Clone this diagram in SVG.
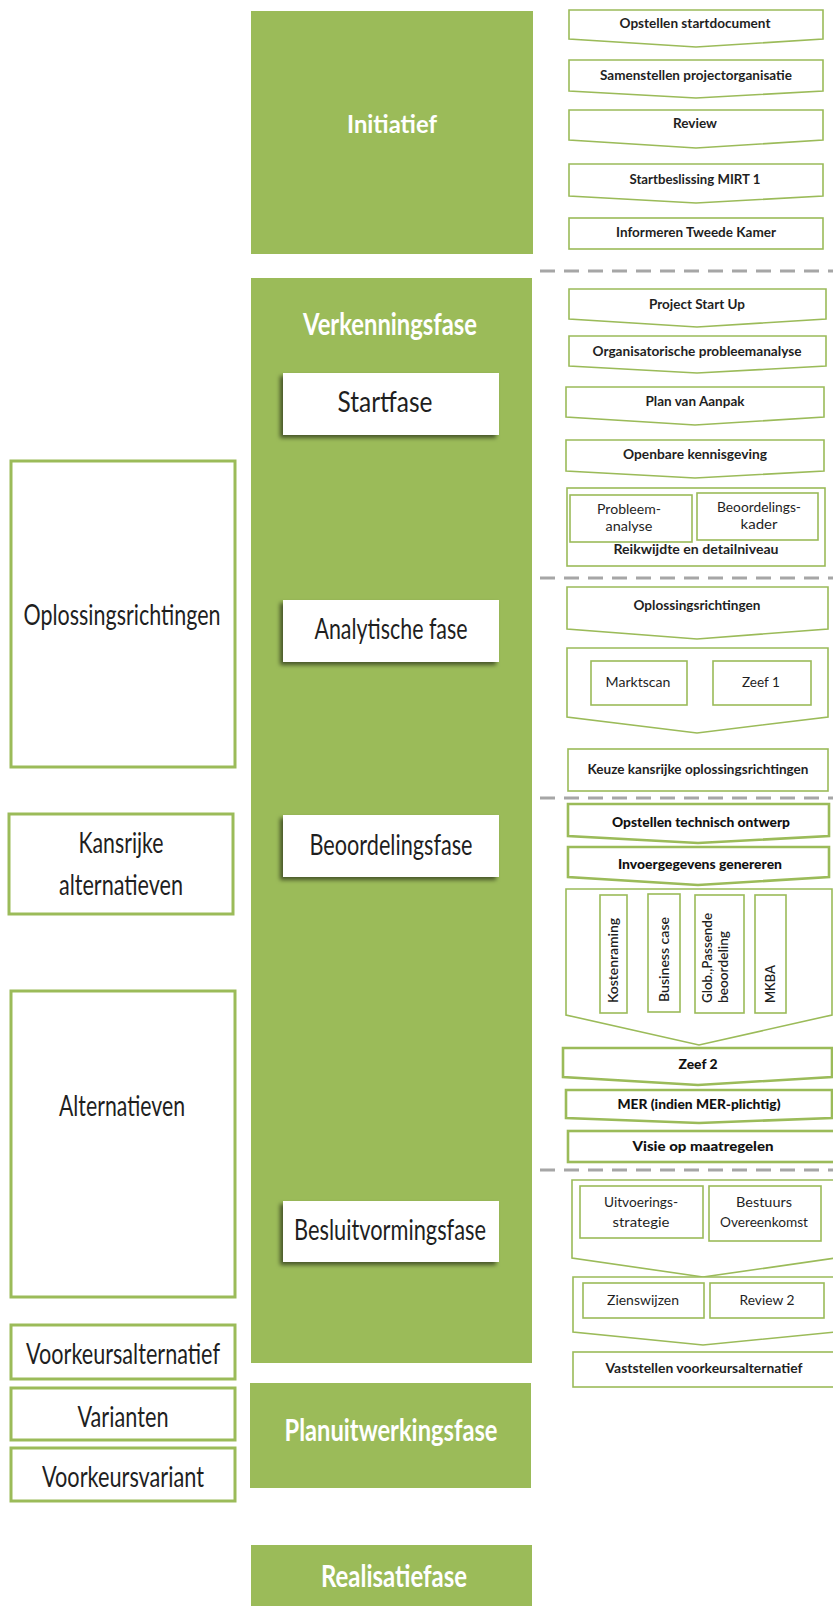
<svg xmlns="http://www.w3.org/2000/svg" width="833" height="1606" viewBox="0 0 833 1606">
<defs>
<filter id="sh" x="-20%" y="-30%" width="140%" height="170%">
<feDropShadow dx="-3" dy="3" stdDeviation="2" flood-color="#000" flood-opacity="0.55"/>
</filter>
<style>
.phase{fill:#9BBB59}
.wbox{fill:#fff;filter:url(#sh)}
.lbox{fill:#fff;stroke:#9BBB59;stroke-width:3}
.ch{fill:#fff;stroke:#9BBB59;stroke-width:1.6}
.chh{fill:#fff;stroke:#9BBB59;stroke-width:2.6}
.sep{stroke:#A6A6A6;stroke-width:3;stroke-dasharray:15 9;fill:none}
text{font-family:Lato,"Open Sans","Liberation Sans",sans-serif;text-anchor:middle}
.pt{fill:#fff;font-weight:700}
.big{fill:#1f1f1f;font-size:28px}
.sm{fill:#1f1f1f;font-size:12.5px;font-weight:700}
.smr{fill:#1f1f1f;font-size:13px}
.smv{fill:#1f1f1f;font-size:13px;font-weight:600;text-anchor:start}
.smh{fill:#111;font-size:12.5px;font-weight:900}
</style>
</defs>
<rect width="833" height="1606" fill="#fff"/>

<g id="separators">
<line class="sep" x1="540" y1="271" x2="833" y2="271"/>
<line class="sep" x1="540" y1="578" x2="833" y2="578"/>
<line class="sep" x1="540" y1="798" x2="833" y2="798"/>
<line class="sep" x1="540" y1="1170" x2="833" y2="1170"/>
</g>

<g id="initiatief">
<rect class="phase" x="251" y="11" width="282" height="243"/>
<text class="pt" x="392" y="133" font-size="25" textLength="90" lengthAdjust="spacingAndGlyphs">Initiatief</text>
</g>
<g id="verkenningsfase">
<rect class="phase" x="251" y="278" width="281" height="1085"/>
<text class="pt" x="390" y="335" font-size="30" textLength="174" lengthAdjust="spacingAndGlyphs">Verkenningsfase</text>
</g>
<g id="startfase">
<rect class="wbox" x="283" y="373" width="216" height="62"/>
<text class="big" x="385" y="412" textLength="95" lengthAdjust="spacingAndGlyphs">Startfase</text>
</g>
<g id="analytische-fase">
<rect class="wbox" x="283" y="600" width="216" height="62"/>
<text class="big" x="391" y="639" textLength="153" lengthAdjust="spacingAndGlyphs">Analytische fase</text>
</g>
<g id="beoordelingsfase">
<rect class="wbox" x="283" y="815" width="216" height="62"/>
<text class="big" x="391" y="855" textLength="163" lengthAdjust="spacingAndGlyphs">Beoordelingsfase</text>
</g>
<g id="besluitvormingsfase">
<rect class="wbox" x="283" y="1201" width="216" height="61"/>
<text class="big" x="390" y="1240" textLength="192" lengthAdjust="spacingAndGlyphs">Besluitvormingsfase</text>
</g>
<g id="planuitwerkingsfase">
<rect class="phase" x="250" y="1383" width="281" height="105"/>
<text class="pt" x="391" y="1441" font-size="30" textLength="213" lengthAdjust="spacingAndGlyphs">Planuitwerkingsfase</text>
</g>
<g id="realisatiefase">
<rect class="phase" x="251" y="1545" width="281" height="61"/>
<text class="pt" x="394" y="1587" font-size="30" textLength="146" lengthAdjust="spacingAndGlyphs">Realisatiefase</text>
</g>

<g id="l-oplossingsrichtingen">
<rect class="lbox" x="11" y="461" width="224" height="306"/>
<text class="big" x="122" y="625" textLength="197" lengthAdjust="spacingAndGlyphs">Oplossingsrichtingen</text>
</g>
<g id="l-kansrijke">
<rect class="lbox" x="9" y="814" width="224" height="100"/>
<text class="big" x="121" y="853" textLength="85" lengthAdjust="spacingAndGlyphs">Kansrijke</text>
<text class="big" x="121" y="895" textLength="124" lengthAdjust="spacingAndGlyphs">alternatieven</text>
</g>
<g id="l-alternatieven">
<rect class="lbox" x="11" y="991" width="224" height="306"/>
<text class="big" x="122" y="1116" textLength="126" lengthAdjust="spacingAndGlyphs">Alternatieven</text>
</g>
<g id="l-voorkeursalternatief">
<rect class="lbox" x="11" y="1325" width="224" height="54"/>
<text class="big" x="123" y="1364" textLength="194" lengthAdjust="spacingAndGlyphs">Voorkeursalternatief</text>
</g>
<g id="l-varianten">
<rect class="lbox" x="11" y="1388" width="224" height="52"/>
<text class="big" x="123" y="1427" textLength="91" lengthAdjust="spacingAndGlyphs">Varianten</text>
</g>
<g id="l-voorkeursvariant">
<rect class="lbox" x="11" y="1448" width="224" height="53"/>
<text class="big" x="123" y="1487" textLength="162" lengthAdjust="spacingAndGlyphs">Voorkeursvariant</text>
</g>

<g id="r-opstellen-startdocument">
<path class="ch" d="M569 10H823V39L696 47L569 39Z"/>
<text class="sm" x="695" y="28" textLength="151" lengthAdjust="spacingAndGlyphs">Opstellen startdocument</text>
</g>
<g id="r-samenstellen">
<path class="ch" d="M569 60H823V91L696 98L569 91Z"/>
<text class="sm" x="696" y="80" textLength="192" lengthAdjust="spacingAndGlyphs">Samenstellen projectorganisatie</text>
</g>
<g id="r-review">
<path class="ch" d="M569 110H823V140L696 148L569 140Z"/>
<text class="sm" x="695" y="128" textLength="44" lengthAdjust="spacingAndGlyphs">Review</text>
</g>
<g id="r-startbeslissing">
<path class="ch" d="M569 164H823V196L696 203L569 196Z"/>
<text class="sm" x="695" y="184" textLength="131" lengthAdjust="spacingAndGlyphs">Startbeslissing MIRT 1</text>
</g>
<g id="r-informeren">
<rect class="ch" x="569" y="218" width="254" height="31"/>
<text class="sm" x="696" y="237" textLength="160" lengthAdjust="spacingAndGlyphs">Informeren Tweede Kamer</text>
</g>

<g id="r-project-start-up">
<path class="ch" d="M569 289H826V319L697 327L569 319Z"/>
<text class="sm" x="697" y="309" textLength="96" lengthAdjust="spacingAndGlyphs">Project Start Up</text>
</g>
<g id="r-organisatorische">
<path class="ch" d="M569 336H826V366L697 373L569 366Z"/>
<text class="sm" x="697" y="356" textLength="209" lengthAdjust="spacingAndGlyphs">Organisatorische probleemanalyse</text>
</g>
<g id="r-plan-van-aanpak">
<path class="ch" d="M566 387H824V417L695 425L566 417Z"/>
<text class="sm" x="695" y="406" textLength="99" lengthAdjust="spacingAndGlyphs">Plan van Aanpak</text>
</g>
<g id="r-openbare">
<path class="ch" d="M566 440H824V471L695 478L566 471Z"/>
<text class="sm" x="695" y="459" textLength="144" lengthAdjust="spacingAndGlyphs">Openbare kennisgeving</text>
</g>
<g id="r-reikwijdte">
<rect class="ch" x="567" y="488" width="258" height="78"/>
<rect class="ch" x="570" y="495" width="122" height="47"/>
<rect class="ch" x="697" y="493" width="121" height="47"/>
<text class="smr" x="629" y="514" textLength="64" lengthAdjust="spacingAndGlyphs">Probleem-</text>
<text class="smr" x="629" y="531" textLength="47" lengthAdjust="spacingAndGlyphs">analyse</text>
<text class="smr" x="759" y="512" textLength="84" lengthAdjust="spacingAndGlyphs">Beoordelings-</text>
<text class="smr" x="759" y="529" textLength="37" lengthAdjust="spacingAndGlyphs">kader</text>
<text class="sm" x="696" y="554" textLength="165" lengthAdjust="spacingAndGlyphs">Reikwijdte en detailniveau</text>
</g>

<g id="r-oplossingsrichtingen">
<path class="ch" d="M567 587H828V629L697 639L567 629Z"/>
<text class="sm" x="697" y="610" textLength="127" lengthAdjust="spacingAndGlyphs">Oplossingsrichtingen</text>
</g>
<g id="r-marktscan-zeef1">
<path class="ch" d="M567 648H828V717L697 733L567 717Z"/>
<rect class="ch" x="591" y="661" width="96" height="44"/>
<rect class="ch" x="713" y="661" width="98" height="44"/>
<text class="smr" x="638" y="687" textLength="65" lengthAdjust="spacingAndGlyphs">Marktscan</text>
<text class="smr" x="761" y="687" textLength="38" lengthAdjust="spacingAndGlyphs">Zeef 1</text>
</g>
<g id="r-keuze">
<rect class="ch" x="568" y="749" width="260" height="42"/>
<text class="sm" x="698" y="774" textLength="221" lengthAdjust="spacingAndGlyphs">Keuze kansrijke oplossingsrichtingen</text>
</g>

<g id="r-technisch-ontwerp">
<path class="chh" d="M568 804H829V836L698 843L568 836Z"/>
<text class="smh" x="701" y="827" textLength="178" lengthAdjust="spacingAndGlyphs">Opstellen technisch ontwerp</text>
</g>
<g id="r-invoergegevens">
<path class="chh" d="M568 847H829V877L698 885L568 877Z"/>
<text class="smh" x="700" y="869" textLength="164" lengthAdjust="spacingAndGlyphs">Invoergegevens genereren</text>
</g>
<g id="r-analyses">
<path class="ch" d="M566 889H832V1015L699 1045L566 1015Z"/>
<rect class="ch" x="600" y="895" width="27" height="118"/>
<rect class="ch" x="648" y="894" width="32" height="118"/>
<rect class="ch" x="695" y="895" width="49" height="118"/>
<rect class="ch" x="755" y="895" width="31" height="118"/>
<text class="smv" transform="translate(617.5 1003) rotate(-90)" textLength="85" lengthAdjust="spacingAndGlyphs">Kostenraming</text>
<text class="smv" transform="translate(668.5 1002) rotate(-90)" textLength="85" lengthAdjust="spacingAndGlyphs">Business case</text>
<text class="smv" transform="translate(712 1003) rotate(-90)" textLength="90" lengthAdjust="spacingAndGlyphs">Glob.,Passende</text>
<text class="smv" transform="translate(728 1003) rotate(-90)" textLength="72" lengthAdjust="spacingAndGlyphs">beoordeling</text>
<text class="smv" transform="translate(775 1003) rotate(-90)" textLength="38" lengthAdjust="spacingAndGlyphs">MKBA</text>
</g>
<g id="r-zeef2">
<path class="chh" d="M563 1048H832V1077L698 1085L563 1077Z"/>
<text class="smh" x="698" y="1069" textLength="39" lengthAdjust="spacingAndGlyphs">Zeef 2</text>
</g>
<g id="r-mer">
<path class="chh" d="M566 1090H832V1118L699 1123L566 1118Z"/>
<text class="smh" x="699" y="1109" textLength="163" lengthAdjust="spacingAndGlyphs">MER (indien MER-plichtig)</text>
</g>
<g id="r-visie">
<rect class="chh" x="568" y="1131" width="268" height="31"/>
<text class="smh" x="703" y="1151" textLength="141" lengthAdjust="spacingAndGlyphs">Visie op maatregelen</text>
</g>

<g id="r-uitvoering-bestuur">
<path class="ch" d="M572 1180H836V1258L703 1277L572 1258Z"/>
<rect class="ch" x="580" y="1186" width="123" height="52"/>
<rect class="ch" x="709" y="1186" width="112" height="55"/>
<text class="smr" x="641" y="1207" textLength="74" lengthAdjust="spacingAndGlyphs">Uitvoerings-</text>
<text class="smr" x="641" y="1227" textLength="57" lengthAdjust="spacingAndGlyphs">strategie</text>
<text class="smr" x="764" y="1207" textLength="56" lengthAdjust="spacingAndGlyphs">Bestuurs</text>
<text class="smr" x="764" y="1227" textLength="88" lengthAdjust="spacingAndGlyphs">Overeenkomst</text>
</g>
<g id="r-zienswijzen-review2">
<path class="ch" d="M573 1277H836V1332L703 1345L573 1332Z"/>
<rect class="ch" x="583" y="1283" width="121" height="35"/>
<rect class="ch" x="710" y="1283" width="114" height="35"/>
<text class="smr" x="643" y="1305" textLength="72" lengthAdjust="spacingAndGlyphs">Zienswijzen</text>
<text class="smr" x="767" y="1305" textLength="55" lengthAdjust="spacingAndGlyphs">Review 2</text>
</g>
<g id="r-vaststellen">
<rect class="ch" x="573" y="1352" width="263" height="35"/>
<text class="sm" x="704" y="1373" font-weight="600" textLength="197" lengthAdjust="spacingAndGlyphs">Vaststellen voorkeursalternatief</text>
</g>
</svg>
